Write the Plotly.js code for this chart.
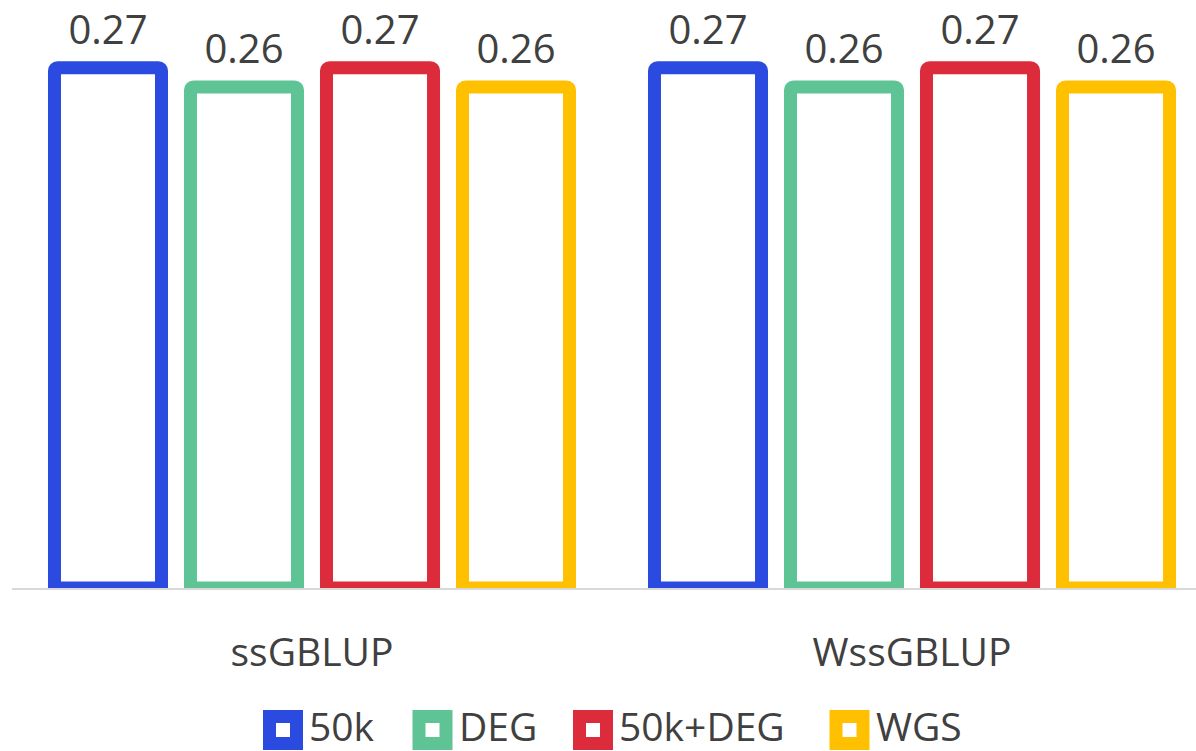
<!DOCTYPE html>
<html><head><meta charset="utf-8">
<script src="https://cdn.plot.ly/plotly-3.0.1.min.js"></script>
<style>html,body{margin:0;padding:0;background:#fff}#chart{width:1196px;height:751px}</style>
</head><body><div id="chart"></div>
<script>
// ---- data ----
const categories = ['ssGBLUP', 'WssGBLUP'];
const seriesNames = ['50k', 'DEG', '50k+DEG', 'WGS'];
const values50k = [0.27, 0.27];
const valuesDEG = [0.26, 0.26];
const values50kDEG = [0.27, 0.27];
const valuesWGS = [0.26, 0.26];
const seriesValues = [values50k, valuesDEG, values50kDEG, valuesWGS];

// ---- style ----
const seriesColors = ['#2B4ADF', '#5EC496', '#DC2B3B', '#FFC000'];
const W = 1196, H = 751, ML = 12, MR = 0, MT = 10, MB = 163;
const FONT = 'Open Sans, Noto Sans, sans-serif';
const TXT = '#404040';
const GAP = 0.0933;

const barTraces = seriesNames.map((n, i) => ({
  type: 'bar', name: n, x: categories, y: seriesValues[i],
  marker: {color: '#ffffff', line: {color: seriesColors[i], width: 13}, cornerradius: 3},
  hoverinfo: 'skip', showlegend: false
}));
// value labels: grouped scatter text aligned with the bars
const labelTraces = seriesNames.map((n, i) => ({
  type: 'scatter', mode: 'markers+text', name: n + ' label', x: categories, y: seriesValues[i],
  marker: {size: 21, color: 'rgba(0,0,0,0)'},
  text: seriesValues[i].map(v => v.toFixed(2)), textposition: 'top center',
  textfont: {family: FONT, size: 40, color: TXT}, cliponaxis: false,
  hoverinfo: 'skip', showlegend: false
}));

// custom legend (large square markers)
const legendPx = [283, 432.5, 593, 849.5];
const legendSqY = 730, legendTxtY = 726;
const plotW = W - ML - MR, plotH = H - MT - MB;
const toPX = px => (px - ML) / plotW;
const toPY = py => (H - MB - py) / plotH;
const shapes = [], annotations = [];
seriesNames.forEach((n, i) => {
  shapes.push({type: 'rect', xref: 'paper', yref: 'paper', xsizemode: 'pixel', ysizemode: 'pixel',
    xanchor: toPX(legendPx[i]), yanchor: toPY(legendSqY), x0: -13.5, x1: 13.5, y0: -13.5, y1: 13.5,
    fillcolor: '#ffffff', line: {color: seriesColors[i], width: 13}, layer: 'above'});
  annotations.push({xref: 'paper', yref: 'paper', x: toPX(legendPx[i] + 24), y: toPY(legendTxtY),
    xanchor: 'left', yanchor: 'middle', showarrow: false, text: n,
    font: {family: FONT, size: 39, color: TXT}});
});

const layout = {
  width: W, height: H, margin: {l: ML, r: MR, t: MT, b: MB, pad: 0},
  paper_bgcolor: '#ffffff', plot_bgcolor: '#ffffff',
  barmode: 'group', bargap: GAP, bargroupgap: 0.213,
  scattermode: 'group', scattergap: GAP,
  showlegend: false,
  xaxis: {type: 'category', range: [-0.5, 1.4733], showline: true, linecolor: '#d9d9d9', linewidth: 2,
    ticks: '', showgrid: false, zeroline: false, ticklabelstandoff: 29,
    tickfont: {family: FONT, size: 39, color: TXT}, fixedrange: true},
  yaxis: {range: [0, 0.3], visible: false, showgrid: false, zeroline: false, fixedrange: true},
  shapes: shapes, annotations: annotations
};

Plotly.newPlot('chart', barTraces.concat(labelTraces), layout, {displayModeBar: false, staticPlot: true});
</script></body></html>
